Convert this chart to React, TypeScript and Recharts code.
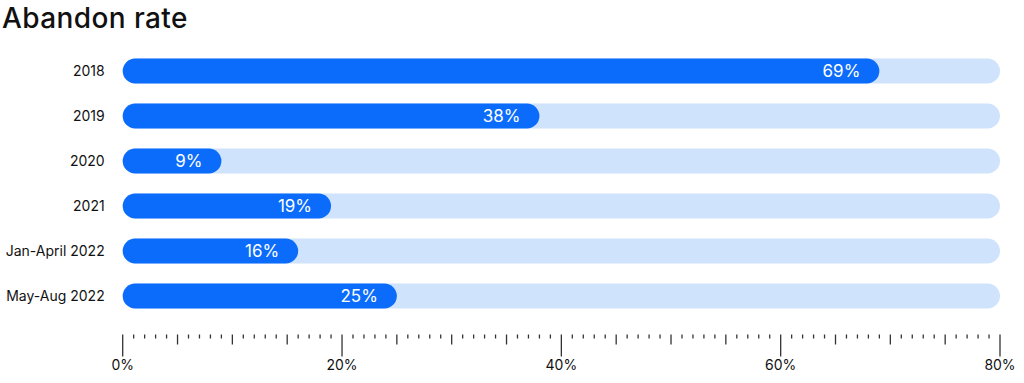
import { BarChart, Bar, XAxis, YAxis, LabelList } from "recharts";

const periods = ["2018", "2019", "2020", "2021", "Jan-April 2022", "May-Aug 2022"];
const abandonRates = [69, 38, 9, 19, 16, 25];
const axisTicks = Array.from({ length: 81 }, (_, i) => i);
const majorTicks = [0, 20, 40, 60, 80];

const data = periods.map((period, i) => ({ period, rate: abandonRates[i] }));

const FONT = "Inter, 'Noto Sans', sans-serif";

// ruler style axis: long ticks every 20, medium every 5, short every 1
const RulerTick = (props: any) => {
  const { x, y, payload } = props;
  const v = payload.value;
  const major = majorTicks.includes(v);
  const len = major ? 22 : v % 5 === 0 ? 10 : 4;
  return (
    <g>
      <line x1={x} x2={x} y1={y + 14} y2={y + 14 + len} stroke="#333" strokeWidth={1.3} />
      {major && (
        <text x={x} y={y + 49} textAnchor="middle" fontSize={14} fill="#111" fontFamily={FONT}>
          {`${v}%`}
        </text>
      )}
    </g>
  );
};

const BarValue = (props: any) => {
  const { x, y, width, height, value } = props;
  return (
    <text
      x={x + width - 19}
      y={y + height / 2 + 6}
      textAnchor="end"
      fontSize={17}
      fill="#fff"
      fontFamily={FONT}
    >
      {`${value}%`}
    </text>
  );
};

export default function App() {
  return (
    <div style={{ position: "absolute", left: 0, top: 0, width: 1024, height: 383, background: "#fff" }}>
      <div
        style={{
          position: "absolute",
          left: 2,
          top: 4,
          fontFamily: FONT,
          fontSize: 28,
          lineHeight: "28px",
          fontWeight: 500,
          color: "#111",
          letterSpacing: 0.4,
        }}
      >
        Abandon rate
      </div>
      <BarChart
        width={1024}
        height={383}
        data={data}
        layout="vertical"
        margin={{ top: 48.5, right: 24, left: 0, bottom: 0 }}
      >
        <XAxis
          type="number"
          domain={[0, 80]}
          ticks={axisTicks}
          interval={0}
          axisLine={false}
          tickLine={false}
          tickSize={0}
          height={64.5}
          tick={<RulerTick />}
        />
        <YAxis
          type="category"
          dataKey="period"
          width={122.7}
          axisLine={false}
          tickLine={false}
          tickSize={0}
          tickMargin={18}
          tick={{ fontSize: 14, fill: "#111", fontFamily: FONT }}
        />
        <Bar
          dataKey="rate"
          fill="#0b6cfb"
          barSize={25}
          radius={12.5}
          background={{ fill: "#d0e3fc", radius: 12.5 }}
          isAnimationActive={false}
        >
          <LabelList dataKey="rate" content={<BarValue />} />
        </Bar>
      </BarChart>
    </div>
  );
}
